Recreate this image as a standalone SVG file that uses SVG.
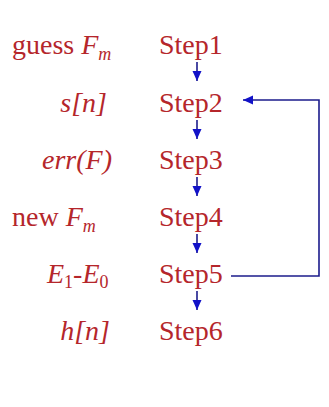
<svg xmlns="http://www.w3.org/2000/svg" width="329" height="407" viewBox="0 0 329 407">
<style>
text{font-size:28px;fill:#b5262b}
.i{font-style:italic}
.c{stroke:#1c1c8c;stroke-width:1.6;fill:none}
</style>
<defs>
<marker id="ah" markerWidth="10" markerHeight="10" refX="10" refY="5" orient="auto" markerUnits="userSpaceOnUse">
<path d="M0,0.5 L10,5 L0,9.5 Z" fill="#1212c8"/>
</marker>
</defs>
<rect width="329" height="407" fill="#fff"/>
<g id="labels" font-family="Liberation Serif, DejaVu Serif, serif">
<text x="12" y="54">guess <tspan class="i">F</tspan><tspan class="i" font-size="18" dy="6">m</tspan></text>
<text class="i" x="107" y="112" text-anchor="end">s[n]</text>
<text class="i" x="112" y="169" text-anchor="end">err(F)</text>
<text x="12" y="226">new <tspan class="i">F</tspan><tspan class="i" font-size="18" dy="6">m</tspan></text>
<text class="i" x="47" y="283">E<tspan font-size="18" dy="5" font-style="normal">1</tspan><tspan dy="-5" font-style="normal">-</tspan>E<tspan font-size="18" dy="5" font-style="normal">0</tspan></text>
<text class="i" x="110" y="340" text-anchor="end">h[n]</text>
</g>
<g font-family="Liberation Serif, DejaVu Serif, serif">
<g id="step1"><text x="159" y="54">Step1</text></g>
<g id="step2"><text x="159" y="112">Step2</text></g>
<g id="step3"><text x="159" y="169">Step3</text></g>
<g id="step4"><text x="159" y="226">Step4</text></g>
<g id="step5"><text x="159" y="283">Step5</text></g>
<g id="step6"><text x="159" y="340">Step6</text></g>
</g>
<g id="connectors">
<line class="c" x1="197" y1="62" x2="197" y2="81" marker-end="url(#ah)"/>
<line class="c" x1="197" y1="120" x2="197" y2="139" marker-end="url(#ah)"/>
<line class="c" x1="197" y1="177" x2="197" y2="196" marker-end="url(#ah)"/>
<line class="c" x1="197" y1="234" x2="197" y2="253" marker-end="url(#ah)"/>
<line class="c" x1="197" y1="291" x2="197" y2="310" marker-end="url(#ah)"/>
<polyline class="c" points="231,276 319,276 319,100 243,100" marker-end="url(#ah)"/>
</g>
</svg>
